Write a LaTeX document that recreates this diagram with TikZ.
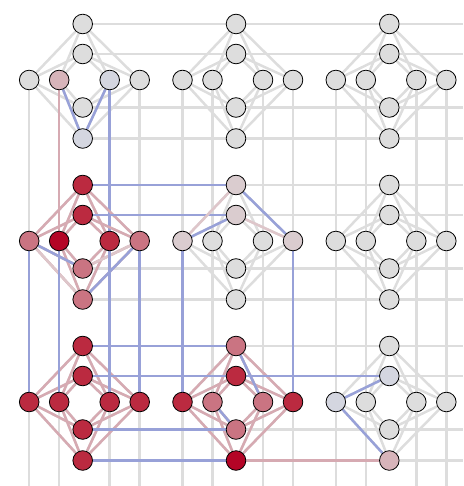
\documentclass[tikz,border=0pt]{standalone}
\usepackage{xcolor}
\usepackage{tikz}
\usetikzlibrary{backgrounds}
\definecolor{qgrey}{RGB}{221,221,221}
\definecolor{egrey}{RGB}{221,221,221}
\definecolor{eblue}{RGB}{152,161,216}
\definecolor{epink}{RGB}{214,170,178}
\definecolor{epale}{RGB}{222,198,202}
\definecolor{qdred}{RGB}{180,4,38}
\definecolor{qred}{RGB}{187,42,64}
\definecolor{qmpink}{RGB}{202,116,130}
\definecolor{qlpink}{RGB}{215,180,186}
\definecolor{qpgrey}{RGB}{218,204,207}
\definecolor{qbgrey}{RGB}{212,214,224}
\tikzset{
	qubit/.style = {circle,draw=black,line width=0.8pt,fill=qgrey,minimum size=19.6pt,inner sep=0pt},
	coupler/.style = {draw=egrey,line width=2.5pt},
	hot/.style = {draw=epink,line width=2.5pt},
	warm/.style = {draw=epale,line width=2.5pt},
	cold/.style = {draw=eblue,line width=2.5pt},
	u00-li/.style = {fill=qlpink}, u00-ri/.style = {fill=qbgrey}, u00-b/.style = {fill=qbgrey},
	u10-t/.style = {fill=qred}, u10-it/.style = {fill=qred}, u10-lo/.style = {fill=qmpink}, u10-li/.style = {fill=qdred},
	u10-ri/.style = {fill=qred}, u10-ro/.style = {fill=qmpink}, u10-ib/.style = {fill=qmpink}, u10-b/.style = {fill=qmpink},
	u11-t/.style = {fill=qpgrey}, u11-it/.style = {fill=qpgrey}, u11-lo/.style = {fill=qpgrey}, u11-ro/.style = {fill=qpgrey},
	u20-t/.style = {fill=qred}, u20-it/.style = {fill=qred}, u20-lo/.style = {fill=qred}, u20-li/.style = {fill=qred},
	u20-ri/.style = {fill=qred}, u20-ro/.style = {fill=qred}, u20-ib/.style = {fill=qred}, u20-b/.style = {fill=qred},
	u21-t/.style = {fill=qmpink}, u21-it/.style = {fill=qred}, u21-lo/.style = {fill=qred}, u21-li/.style = {fill=qmpink},
	u21-ri/.style = {fill=qmpink}, u21-ro/.style = {fill=qred}, u21-ib/.style = {fill=qmpink}, u21-b/.style = {fill=qdred},
	u22-it/.style = {fill=qbgrey}, u22-lo/.style = {fill=qbgrey}, u22-b/.style = {fill=qlpink}
}

\begin{document}
\begin{tikzpicture}[x=1pt,y=-1pt]
	\useasboundingbox (0,0) rectangle (463,486);
	\coordinate (rim-e) at (463,0);
	\coordinate (rim-s) at (0,486);

	\foreach \row in {0,1,2}
		\foreach \col in {0,1,2}
			\foreach \q/\dx/\dy in {t/0/-56, it/0/-26, lo/-53.5/0, li/-23.5/0, ri/27/0, ro/57/0, ib/0/27.5, b/0/58.5}
				\node[qubit, u\row\col-\q/.try] (u\row\col-\q) at ({82.7+153.3*\col+\dx},{80+161*\row+\dy}) {};

	\begin{scope}[on background layer]
		\foreach \row in {0,1,2}
			\foreach \col in {0,1,2}
				\foreach \a in {t,it,ib,b}
					\foreach \v in {lo,li,ri,ro}
						\draw[coupler] (u\row\col-\a) -- (u\row\col-\v);
		\foreach \row in {0,1,2}
			\foreach \a in {t,it,ib,b} {
				\draw[coupler] (u\row0-\a) -- (u\row1-\a);
				\draw[coupler] (u\row1-\a) -- (u\row2-\a);
				\draw[coupler] (u\row2-\a) -- (u\row2-\a -| rim-e);
			}
		\foreach \col in {0,1,2}
			\foreach \v in {lo,li,ri,ro} {
				\draw[coupler] (u0\col-\v) -- (u1\col-\v);
				\draw[coupler] (u1\col-\v) -- (u2\col-\v);
				\draw[coupler] (u2\col-\v) -- (u2\col-\v |- rim-s);
			}

		\draw[cold] (u00-li) -- (u00-b);
		\draw[cold] (u00-ri) -- (u00-b);
		\draw[hot] (u00-li) -- (u10-li);
		\draw[cold] (u00-ri) -- (u10-ri);

		\foreach \a in {t,it,ib,b}
			\foreach \v in {lo,li,ri,ro} {
				\draw[hot] (u10-\a) -- (u10-\v);
				\draw[hot] (u20-\a) -- (u20-\v);
				\draw[hot] (u21-\a) -- (u21-\v);
			}
		\draw[warm] (u10-b) -- (u10-lo);
		\draw[warm] (u10-ib) -- (u10-ro);
		\draw[cold] (u10-ib) -- (u10-lo);
		\draw[cold] (u10-b) -- (u10-ro);
		\draw[cold] (u10-t) -- (u11-t);
		\draw[cold] (u10-it) -- (u11-it);
		\foreach \v in {lo,li,ri,ro}
			\draw[cold] (u10-\v) -- (u20-\v);

		\draw[warm] (u11-t) -- (u11-lo);
		\draw[warm] (u11-it) -- (u11-ro);
		\draw[cold] (u11-it) -- (u11-lo);
		\draw[cold] (u11-t) -- (u11-ro);
		\draw[cold] (u11-lo) -- (u21-lo);
		\draw[cold] (u11-ro) -- (u21-ro);

		\foreach \a in {t,it,ib,b}
			\draw[cold] (u20-\a) -- (u21-\a);
		\draw[cold] (u21-t) -- (u21-ri);
		\draw[cold] (u21-ib) -- (u21-li);
		\draw[cold] (u21-it) -- (u22-it);
		\draw[hot] (u21-b) -- (u22-b);

		\draw[cold] (u22-lo) -- (u22-it);
		\draw[cold] (u22-lo) -- (u22-b);
	\end{scope}
\end{tikzpicture}
\end{document}
